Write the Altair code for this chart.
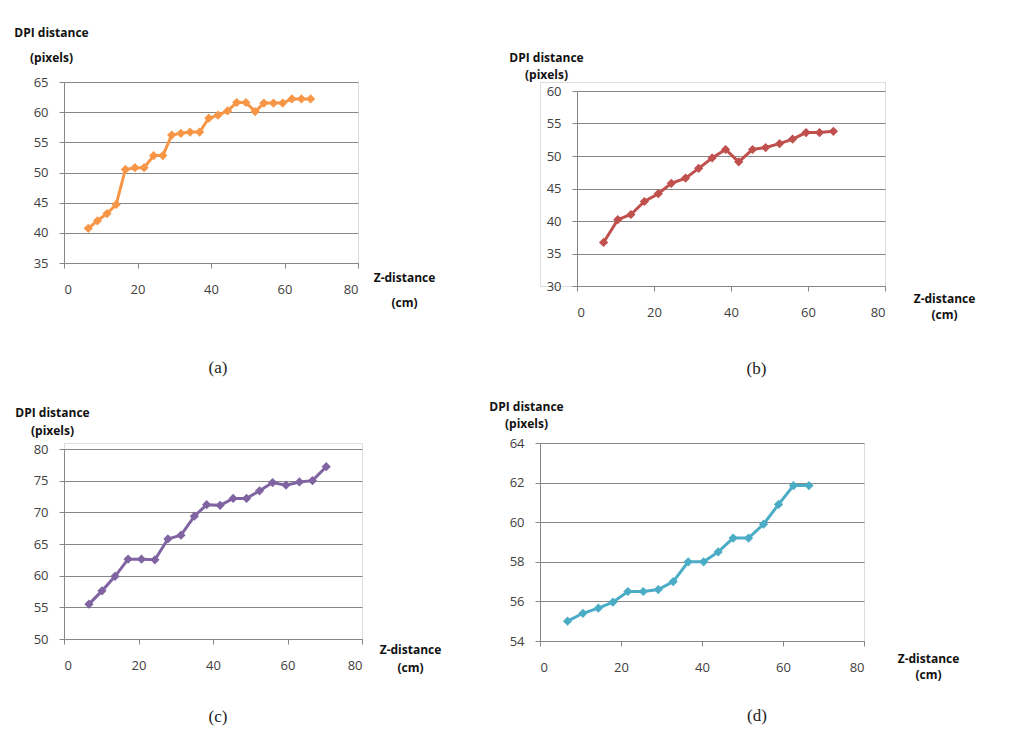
import altair as alt
import pandas as pd

# ---- data ----
a_z = [6.6, 9.1, 11.7, 14.2, 16.7, 19.3, 21.8, 24.4, 26.9, 29.3, 31.8, 34.3, 36.9,
       39.4, 41.9, 44.5, 47.0, 49.5, 52.0, 54.4, 57.0, 59.5, 62.0, 64.6, 67.1]
a_dpi = [40.75, 42.0, 43.2, 44.7, 50.5, 50.8, 50.8, 52.8, 52.8, 56.2, 56.5, 56.7, 56.7,
         59.0, 59.5, 60.2, 61.6, 61.6, 60.1, 61.5, 61.5, 61.5, 62.2, 62.2, 62.2]

b_z = [6.9, 10.6, 14.0, 17.5, 21.1, 24.5, 28.2, 31.6, 35.1, 38.6, 42.0, 45.6, 49.0,
       52.6, 56.0, 59.5, 63.0, 66.6]
b_dpi = [36.7, 40.2, 41.0, 43.0, 44.2, 45.8, 46.6, 48.1, 49.7, 51.0, 49.1, 51.0, 51.3,
         51.9, 52.6, 53.6, 53.6, 53.8]

c_z = [6.7, 10.2, 13.7, 17.2, 20.8, 24.4, 27.9, 31.4, 35.0, 38.3, 41.9, 45.4, 49.0,
       52.5, 56.0, 59.6, 63.2, 66.7, 70.4]
c_dpi = [55.5, 57.6, 59.9, 62.6, 62.6, 62.5, 65.8, 66.4, 69.4, 71.2, 71.1, 72.2, 72.2,
         73.4, 74.7, 74.3, 74.8, 75.0, 77.2]

d_z = [6.8, 10.6, 14.4, 18.0, 21.7, 25.5, 29.2, 32.9, 36.6, 40.4, 44.0, 47.7, 51.5,
       55.2, 58.9, 62.6, 66.4]
d_dpi = [55.0, 55.4, 55.66, 55.96, 56.5, 56.5, 56.6, 57.0, 58.0, 58.0, 58.5, 59.2, 59.2,
         59.9, 60.9, 61.85, 61.85]

x_ticks = [0, 20, 40, 60, 80]
a_ticks = [35, 40, 45, 50, 55, 60, 65]
b_ticks = [30, 35, 40, 45, 50, 55, 60]
c_ticks = [50, 55, 60, 65, 70, 75, 80]
d_ticks = [54, 56, 58, 60, 62, 64]

y_title = ["DPI distance", "(pixels)"]
x_title = ["Z-distance", "(cm)"]
captions = ["(a)", "(b)", "(c)", "(d)"]
colors = ["#F79646", "#C0504D", "#8064A2", "#4BACC6"]

GRID = "#878787"
LABEL_FONT = "Open Sans"


def panel(zs, vals, color, ticks, w, h, xrange, yrange, yoff,
          ytx, yty, ylh, xtx, xty, xlh, caption, cap_dx, cap_off):
    df = pd.DataFrame({"z": zs, "dpi": vals})
    yaxis_kwargs = dict(
        values=ticks, grid=True, gridColor=GRID, gridWidth=1,
        domainColor=GRID, tickColor=GRID, tickSize=5, labelPadding=11,
        labelFont=LABEL_FONT, labelFontSize=13, labelColor="#404040",
        title=y_title, titleAngle=0, titleAlign="center", titleBaseline="top",
        titleX=ytx, titleY=yty, titleLineHeight=ylh,
        titleFont=LABEL_FONT, titleFontSize=12, titleFontWeight="bold",
        titleColor="#111111",
    )
    if yoff:
        yaxis_kwargs["offset"] = yoff
    x = alt.X("z:Q",
              scale=alt.Scale(domain=[0, 80], range=xrange, nice=False, zero=False),
              axis=alt.Axis(values=x_ticks, grid=False, domainColor=GRID,
                            tickColor=GRID, tickSize=5, labelPadding=15,
                            labelFont=LABEL_FONT, labelFontSize=13,
                            labelColor="#404040",
                            title=x_title, titleAngle=0, titleAlign="center",
                            titleBaseline="top", titleX=xtx, titleY=xty,
                            titleLineHeight=xlh, titleFont=LABEL_FONT,
                            titleFontSize=12, titleFontWeight="bold",
                            titleColor="#111111"))
    y = alt.Y("dpi:Q",
              scale=alt.Scale(domain=[ticks[0], ticks[-1]], range=yrange,
                              nice=False, zero=False),
              axis=alt.Axis(**yaxis_kwargs))
    base = alt.Chart(df)
    line = base.mark_line(color=color, strokeWidth=3).encode(x=x, y=y)
    pts = base.mark_point(shape="diamond", filled=True, color=color, size=85,
                          opacity=1).encode(x=x, y=y)
    return (line + pts).properties(
        width=w, height=h,
        title=alt.TitleParams(caption, orient="bottom", anchor="middle",
                              frame="group", dx=cap_dx, offset=cap_off,
                              font="Liberation Serif", fontSize=17,
                              fontWeight="normal", color="#222222"))


pa = panel(a_z, a_dpi, colors[0], a_ticks, 294, 181, [0, 294], [181, 0], 0,
           -13, -55, 25, 340, 9, 25, captions[0], 7, 52)
pb = panel(b_z, b_dpi, colors[1], b_ticks, 345, 204, [37, 345], [204, 9], -37,
           -31, -30, 17, 404, 7, 16, captions[1], 44, 41)
pc = panel(c_z, c_dpi, colors[2], c_ticks, 298, 196, [0, 298], [196, 6], 0,
           -12, -36, 18, 346, 5, 18, captions[2], 5, 36)
pd_ = panel(d_z, d_dpi, colors[3], d_ticks, 324, 198, [0, 324], [198, 0], 0,
            -14, -42, 17, 388, 12, 16, captions[3], 55, 28)

chart = alt.concat(pa, pb, pc, pd_, columns=2,
                   spacing={"row": 157, "column": 178},
                   bounds="flush", align="each").properties(
    padding={"left": 5, "top": 17, "right": 5, "bottom": 0}
).configure_view(stroke=None).configure(background="white")

chart.save("out.html", embed_options={"renderer": "svg", "actions": False})
